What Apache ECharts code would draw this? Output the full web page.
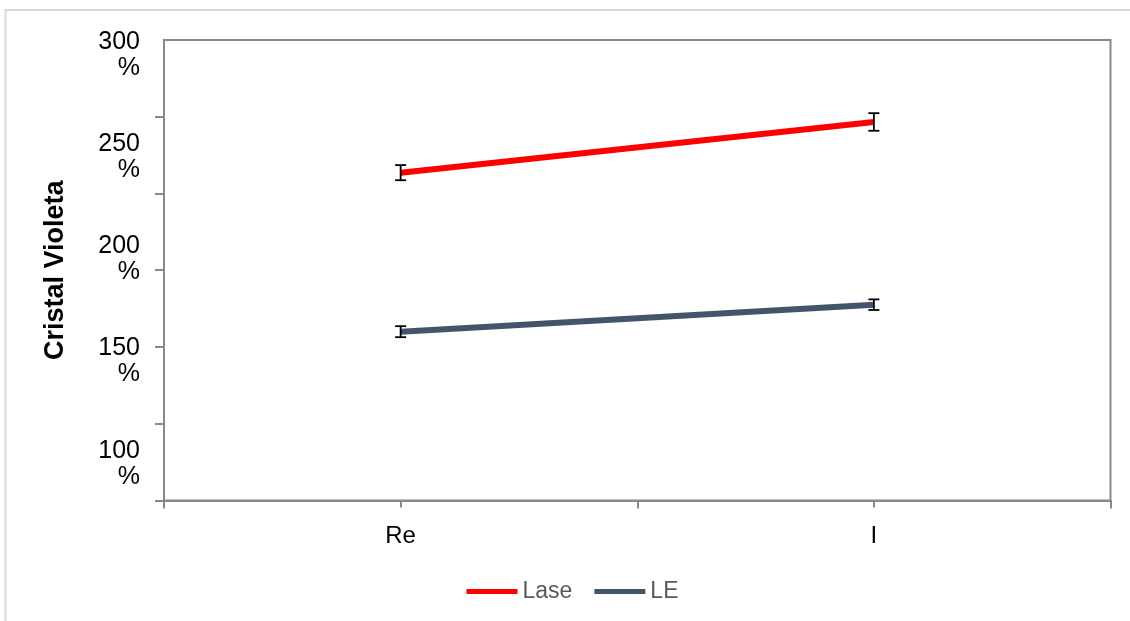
<!DOCTYPE html>
<html>
<head>
<meta charset="utf-8">
<script src="https://cdn.jsdelivr.net/npm/echarts@6/dist/echarts.min.js"></script>
<style>
html,body{margin:0;padding:0;background:#fff;}
#chart{width:1130px;height:621px;}
</style>
</head>
<body>
<div id="chart"></div>
<script>
var categories = ['Re', 'I'];
var laseValues = [242.4, 267.2];
var laseErrors = [3.7, 4.3];
var leValues = [164.6, 177.8];
var leErrors = [2.7, 2.6];
var yLabelValues = [100, 150, 200, 250, 300];
var yMin = 82;
var yMax = 307.3;
var yTickCount = 6;

var yTickValues = [];
for (var k = 0; k <= yTickCount; k++) {
  yTickValues.push(yMin + k * (yMax - yMin) / yTickCount);
}

function errorData(values, errors) {
  return values.map(function (v, i) { return [i, v - errors[i], v + errors[i]]; });
}

function renderError(params, api) {
  var x = api.value(0);
  var lo = api.coord([x, api.value(1)]);
  var hi = api.coord([x, api.value(2)]);
  var w = 5.5;
  var style = { stroke: '#000', lineWidth: 1.8 };
  return {
    type: 'group',
    children: [
      { type: 'line', shape: { x1: lo[0], y1: lo[1], x2: hi[0], y2: hi[1] }, style: style },
      { type: 'line', shape: { x1: lo[0] - w, y1: lo[1], x2: lo[0] + w, y2: lo[1] }, style: style },
      { type: 'line', shape: { x1: hi[0] - w, y1: hi[1], x2: hi[0] + w, y2: hi[1] }, style: style }
    ]
  };
}

var chart = echarts.init(document.getElementById('chart'), null, { renderer: 'canvas' });
var axisColor = '#898989';
chart.setOption({
  animation: false,
  backgroundColor: '#fff',
  textStyle: { fontFamily: 'Liberation Sans, Arial, sans-serif' },
  graphic: [{
    type: 'rect',
    shape: { x: 5.5, y: 10, width: 1300, height: 800 },
    style: { fill: 'none', stroke: '#d9d9d9', lineWidth: 2 },
    silent: true
  }],
  grid: {
    left: 164, right: 19.5, top: 40, bottom: 120.5,
    show: true, borderColor: axisColor, borderWidth: 2, backgroundColor: 'transparent'
  },
  legend: {
    data: ['Lase', 'LE'],
    left: 466.5, top: 580, padding: 0,
    icon: 'rect', itemWidth: 51, itemHeight: 5, itemGap: 22,
    textStyle: { color: '#595959', fontSize: 23, fontFamily: 'Liberation Sans, Arial, sans-serif' }
  },
  xAxis: [{
    type: 'category',
    data: categories,
    boundaryGap: true,
    axisLine: { lineStyle: { color: axisColor, width: 2 } },
    axisTick: { show: true, length: 8, lineStyle: { color: axisColor, width: 2 } },
    axisLabel: { color: '#000', fontSize: 24, margin: 24 }
  }, {
    type: 'category',
    data: categories,
    boundaryGap: true,
    position: 'bottom',
    axisLine: { show: false },
    axisTick: { show: true, alignWithLabel: true, length: 7, lineStyle: { color: axisColor, width: 2 } },
    axisLabel: { show: false }
  }],
  yAxis: {
    type: 'value',
    min: yMin, max: yMax,
    name: 'Cristal Violeta',
    nameLocation: 'middle',
    nameRotate: 90,
    nameGap: 95,
    nameTextStyle: { color: '#000', fontSize: 27, fontWeight: 'bold' },
    axisLine: { show: true, lineStyle: { color: axisColor, width: 2 } },
    axisTick: { show: true, length: 9, customValues: yTickValues, lineStyle: { color: axisColor, width: 2 } },
    splitLine: { show: false },
    axisLabel: {
      customValues: yLabelValues,
      color: '#000', fontSize: 25, lineHeight: 26, margin: 24, align: 'right',
      formatter: function (v) { return Math.round(v) + '\n%'; }
    }
  },
  series: [{
    name: 'Lase', type: 'line', data: laseValues, symbol: 'none',
    lineStyle: { color: '#ff0000', width: 6 }, itemStyle: { color: '#ff0000' }, z: 2
  }, {
    name: 'LE', type: 'line', data: leValues, symbol: 'none',
    lineStyle: { color: '#44546a', width: 6 }, itemStyle: { color: '#44546a' }, z: 2
  }, {
    name: 'Lase err', type: 'custom', data: errorData(laseValues, laseErrors),
    renderItem: renderError, z: 5
  }, {
    name: 'LE err', type: 'custom', data: errorData(leValues, leErrors),
    renderItem: renderError, z: 5
  }]
});
</script>
</body>
</html>
